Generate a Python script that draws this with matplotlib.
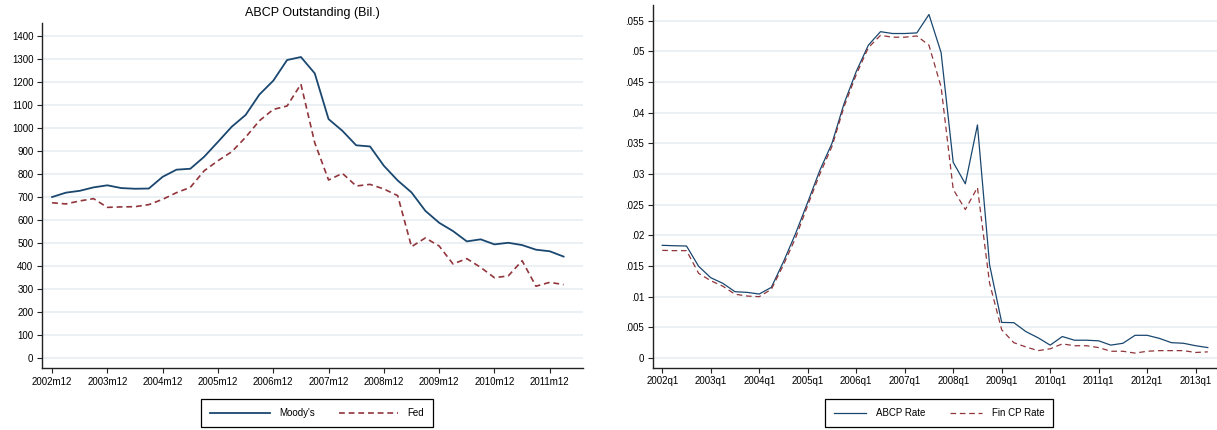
import numpy as np
import matplotlib
matplotlib.use("Agg")
import matplotlib.pyplot as plt
from matplotlib.ticker import FixedLocator

plt.rcParams.update({
    "font.family": ["Liberation Sans", "DejaVu Sans"],
    "font.size": 7,
    "axes.spines.top": False, "axes.spines.right": False,
})

# ---- dados: painel esquerdo (trimestral, 2002m12 .. 2012m3)
moodys = [700, 719, 727, 742, 751, 739, 736, 737, 788, 819, 823, 875, 940,
          1006, 1057, 1146, 1206, 1296, 1309, 1238, 1039, 988, 925, 920, 836,
          772, 720, 640, 588, 552, 507, 516, 494, 501, 491, 471, 464, 441]
fed = [675, 670, 683, 693, 655, 657, 658, 667, 690, 719, 742, 814, 858,
       897, 960, 1032, 1081, 1096, 1191, 936, 774, 803, 748, 755, 735,
       706, 484, 522, 487, 409, 432, 394, 349, 357, 423, 312, 329, 319]
left_ticklabels = [f"{y}m12" for y in range(2002, 2012)]

# ---- dados: painel direito (trimestral, 2002q1 .. 2013q2)
abcp_rate = [0.01837, 0.0183, 0.01826, 0.01495, 0.01309, 0.01217, 0.01081,
             0.0107, 0.01043, 0.01152, 0.0157, 0.0203, 0.0254, 0.0306,
             0.0350, 0.0415, 0.0467, 0.0510, 0.0532, 0.0529, 0.0529, 0.0530,
             0.0560, 0.0498, 0.0319, 0.0284, 0.0380, 0.0152, 0.0058, 0.00576,
             0.0043, 0.0033, 0.0021, 0.0035, 0.0029, 0.0029, 0.0028, 0.0021,
             0.0024, 0.0037, 0.0037, 0.0032, 0.0025, 0.0024, 0.0020, 0.0017]
fincp_rate = [0.01755, 0.0175, 0.0175, 0.0138, 0.0126, 0.0117, 0.0104,
              0.0101, 0.0100, 0.0112, 0.0152, 0.0196, 0.0249, 0.0300,
              0.0345, 0.0410, 0.0462, 0.0506, 0.0526, 0.0523, 0.0523, 0.0525,
              0.0510, 0.0442, 0.0275, 0.0242, 0.0278, 0.0122, 0.0046, 0.0025,
              0.0018, 0.0012, 0.0015, 0.0023, 0.0020, 0.0020, 0.0017, 0.0011,
              0.0011, 0.0008, 0.0011, 0.0012, 0.0012, 0.0012, 0.0009, 0.0010]
right_ticklabels = [f"{y}q1" for y in range(2002, 2014)]
right_yticks = [0, .005, .01, .015, .02, .025, .03, .035, .04, .045, .05, .055]

NAVY = "#1a476f"
MAROON = "#90353b"
GRID = "#e6eef1"


def estilo(ax):
    ax.grid(axis="y", color=GRID, lw=1.2)
    ax.set_axisbelow(True)
    for s in ("left", "bottom"):
        ax.spines[s].set_color("#222222")
        ax.spines[s].set_linewidth(1.0)
    ax.tick_params(direction="out", length=3.5, width=0.8, color="#222222",
                   labelsize=7, pad=2.5)


fig = plt.figure(figsize=(12.17, 4.3), dpi=100)

# painel esquerdo
ax1 = fig.add_axes([0.0343, 0.1435, 0.4447, 0.803])
t1 = np.arange(len(moodys)) * 3
ax1.plot(t1, moodys, color=NAVY, lw=1.3, label="Moody's")
ax1.plot(t1, fed, color=MAROON, lw=1.2, dashes=(3.5, 2.3), label="Fed")
ax1.set_xlim(-2.24, 115.2)
ax1.set_ylim(-45, 1457)
ax1.xaxis.set_major_locator(FixedLocator(np.arange(0, 120, 12)))
ax1.set_xticklabels(left_ticklabels)
ax1.yaxis.set_major_locator(FixedLocator(np.arange(0, 1500, 100)))
ax1.set_title("ABCP Outstanding (Bil.)", fontsize=9, pad=5)
estilo(ax1)
leg1 = ax1.legend(loc="center", bbox_to_anchor=(317.3 / 1217, 17 / 430),
                  bbox_transform=fig.transFigure, ncol=2, fontsize=7,
                  handlelength=6.1, handletextpad=1.0, columnspacing=2.4,
                  borderpad=0.95, fancybox=False, edgecolor="black",
                  framealpha=1)
leg1.get_frame().set_linewidth(0.9)

# painel direito
ax2 = fig.add_axes([0.5363, 0.1449, 0.4635, 0.8442])
t2 = np.arange(len(abcp_rate))
ax2.plot(t2, abcp_rate, color=NAVY, lw=0.9, label="ABCP Rate")
ax2.plot(t2, fincp_rate, color=MAROON, lw=0.9, dashes=(4.5, 3), label="Fin CP Rate")
ax2.set_xlim(-0.79, 45.74)
ax2.set_ylim(-0.00158, 0.0576)
ax2.xaxis.set_major_locator(FixedLocator(np.arange(0, 48, 4)))
ax2.set_xticklabels(right_ticklabels)
ax2.yaxis.set_major_locator(FixedLocator(right_yticks))
ax2.set_yticklabels(["0" if v == 0 else f"{v:g}".lstrip("0") for v in right_yticks])
estilo(ax2)
leg2 = ax2.legend(loc="center", bbox_to_anchor=(939.2 / 1217, 17 / 430),
                  bbox_transform=fig.transFigure, ncol=2, fontsize=7,
                  handlelength=3.3, handletextpad=1.0, columnspacing=2.5,
                  borderpad=0.95, fancybox=False, edgecolor="black",
                  framealpha=1)
leg2.get_frame().set_linewidth(0.9)

fig.savefig("out.png", dpi=100)
